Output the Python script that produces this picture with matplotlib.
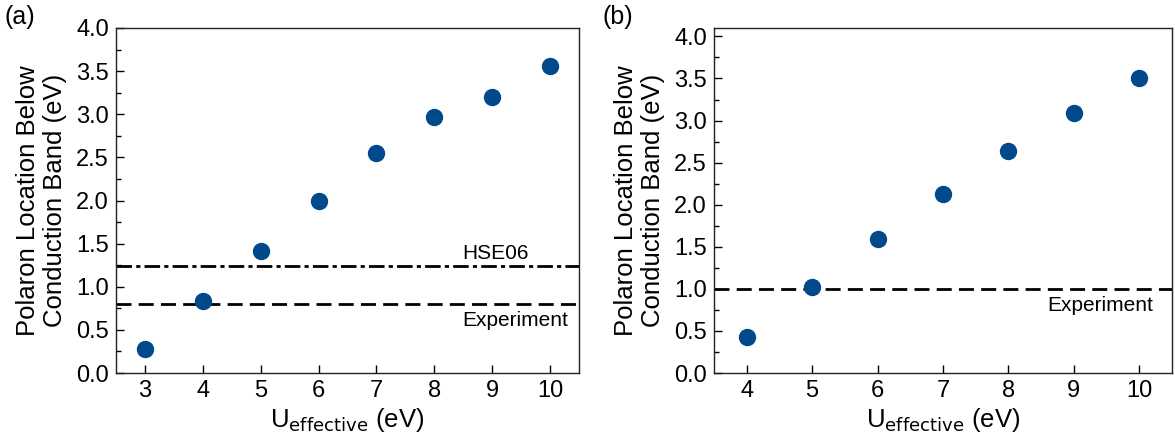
import matplotlib.pyplot as plt
from matplotlib.ticker import MultipleLocator

plt.rcParams['font.family'] = ['Liberation Sans', 'DejaVu Sans']

# panel (a)
u_a = [3, 4, 5, 6, 7, 8, 9, 10]
e_a = [0.28, 0.84, 1.41, 1.99, 2.55, 2.97, 3.20, 3.56]
hse06_a = 1.24
expt_a = 0.80

# panel (b)
u_b = [4, 5, 6, 7, 8, 9, 10]
e_b = [0.43, 1.02, 1.59, 2.13, 2.64, 3.09, 3.51]
expt_b = 1.0

blue = '#004a8c'
ylabel = 'Polaron Location Below\nConduction Band (eV)'
xlabel = r'U$_{\mathrm{effective}}$ (eV)'

fig = plt.figure(figsize=(11.75, 4.42), dpi=100)
ax1 = fig.add_axes([116/1175, 1-373/442, 463/1175, 345/442])
ax2 = fig.add_axes([714/1175, 1-373/442, 458/1175, 345/442])

def style(ax, xticks):
    ax.set_xticks(xticks)
    ax.yaxis.set_major_locator(MultipleLocator(0.5))
    ax.yaxis.set_minor_locator(MultipleLocator(0.25))
    ax.yaxis.set_major_formatter(plt.FormatStrFormatter('%.1f'))
    ax.tick_params(direction='in', which='major', length=6, width=1, labelsize=17, pad=5)
    ax.tick_params(direction='in', which='minor', length=3.5, width=1)
    ax.tick_params(axis='x', which='minor', bottom=False)
    for s in ax.spines.values():
        s.set_linewidth(1)
        s.set_color('#222222')
    ax.set_ylabel(ylabel, fontsize=18.5, labelpad=7, linespacing=1.12)
    ax.set_xlabel(xlabel, fontsize=18.5, labelpad=3)

# (a)
ax1.axhline(hse06_a, color='black', lw=2, dashes=(5.6, 1.5, 1.5, 1.5))
ax1.axhline(expt_a, color='black', lw=2, dashes=(5.4, 2.6))
ax1.plot(u_a, e_a, 'o', color=blue, ms=11.5, zorder=3)
ax1.text(8.49, 1.28, 'HSE06', fontsize=15, va='bottom', ha='left')
ax1.text(8.49, 0.72, 'Experiment', fontsize=15, va='top', ha='left')
ax1.set_xlim(2.5, 10.5)
ax1.set_ylim(0, 4.0)
style(ax1, u_a)

# (b)
ax2.axhline(expt_b, color='black', lw=2, dashes=(5.4, 2.6))
ax2.plot(u_b, e_b, 'o', color=blue, ms=11.5, zorder=3)
ax2.text(8.6, 0.92, 'Experiment', fontsize=15, va='top', ha='left')
ax2.set_xlim(3.5, 10.5)
ax2.set_ylim(0, 4.1)
style(ax2, u_b)

fig.text(4/1175, 1-17/442, '(a)', fontsize=18, va='center', ha='left')
fig.text(603/1175, 1-17/442, '(b)', fontsize=18, va='center', ha='left')

fig.savefig('out.png', dpi=100)
